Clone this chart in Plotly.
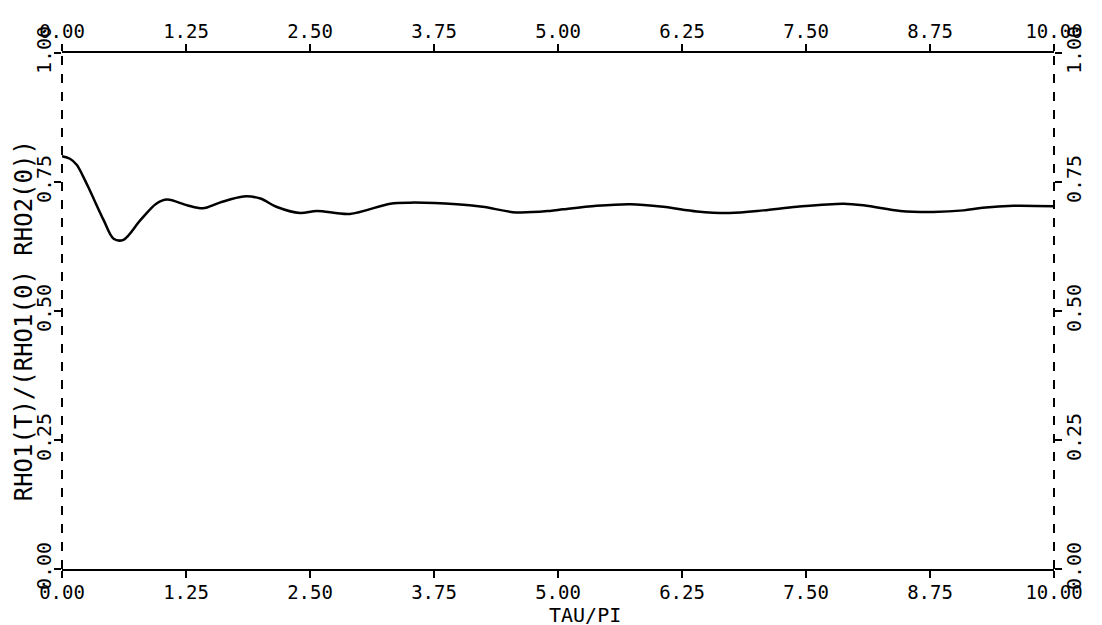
import plotly.graph_objects as go

# Data
tau = [0.0, 0.08, 0.15, 0.21, 0.28, 0.42, 0.52, 0.62, 0.79, 0.95, 1.06, 1.26, 1.42, 1.59, 1.83,
       2.0, 2.16, 2.40, 2.57, 2.90, 3.31, 3.51, 3.98, 4.24, 4.58, 4.92, 5.05, 5.39, 5.73,
       6.06, 6.40, 6.73, 7.07, 7.41, 7.88, 8.11, 8.45, 8.78, 9.09, 9.28, 9.59, 10.0]
rho = [0.800, 0.795, 0.783, 0.762, 0.734, 0.676, 0.640, 0.638, 0.676, 0.708, 0.716, 0.705,
       0.699, 0.710, 0.722, 0.718, 0.702, 0.690, 0.694, 0.688, 0.708, 0.710, 0.707, 0.702,
       0.691, 0.694, 0.697, 0.704, 0.707, 0.702, 0.693, 0.690, 0.695, 0.702, 0.708, 0.704,
       0.694, 0.692, 0.695, 0.700, 0.704, 0.703]

x_ticks = [0.0, 1.25, 2.5, 3.75, 5.0, 6.25, 7.5, 8.75, 10.0]
x_ticktext = ["0.00", "1.25", "2.50", "3.75", "5.00", "6.25", "7.50", "8.75", "10.00"]
y_ticks = [0.0, 0.25, 0.5, 0.75, 1.0]
y_ticktext = ["0.00", "0.25", "0.50", "0.75", "1.00"]

x_title = "TAU/PI"
y_title = "RHO1(T)/(RHO1(0) RHO2(0))"

FONT = "DejaVu Sans Mono"

fig = go.Figure()
fig.add_trace(go.Scatter(x=tau, y=rho, mode="lines",
                         line=dict(color="black", width=2.5, shape="spline", smoothing=0.9),
                         showlegend=False, hoverinfo="skip"))
# invisible trace to anchor the mirrored (top/right) axes
fig.add_trace(go.Scatter(x=[x_ticks[0], x_ticks[-1]], y=[y_ticks[0], y_ticks[-1]],
                         xaxis="x2", yaxis="y2", mode="markers",
                         marker=dict(opacity=0), showlegend=False, hoverinfo="skip"))

common_x = dict(range=[0, 10], tickvals=x_ticks, ticktext=x_ticktext, ticks="outside",
                ticklen=7, tickwidth=2, tickcolor="black", showgrid=False, zeroline=False,
                showline=True, linecolor="black", linewidth=2, ticklabelstandoff=-2,
                tickfont=dict(family=FONT, size=19, color="black"))
common_y = dict(range=[0, 1], tickvals=y_ticks, ticktext=y_ticktext, ticks="outside",
                ticklen=7, tickwidth=2, tickcolor="black", showgrid=False, zeroline=False,
                showline=False, tickangle=-90, ticklabelstandoff=-5,
                tickfont=dict(family=FONT, size=20, color="black"))

fig.update_layout(
    width=1102, height=625,
    margin=dict(l=54, r=56, t=40, b=64),
    paper_bgcolor="white", plot_bgcolor="white",
    xaxis=dict(**common_x, side="bottom"),
    xaxis2=dict(**common_x, side="top", overlaying="x", matches="x"),
    yaxis=dict(**common_y, side="left"),
    yaxis2=dict(**common_y, side="right", overlaying="y", matches="y"),
    shapes=[
        dict(type="line", xref="x domain", yref="y domain", x0=0, x1=0, y0=0, y1=1,
             line=dict(color="black", width=2, dash="dash")),
        dict(type="line", xref="x domain", yref="y domain", x0=1, x1=1, y0=0, y1=1,
             line=dict(color="black", width=2, dash="dash")),
    ],
    annotations=[
        dict(text=y_title, xref="paper", yref="paper", x=0, y=0.48, xanchor="center",
             yanchor="middle", xshift=-38, textangle=-90, showarrow=False,
             font=dict(family=FONT, size=24, color="black")),
        dict(text=x_title, xref="paper", yref="paper", x=0.527, y=0, xanchor="center",
             yanchor="top", yshift=-32, showarrow=False,
             font=dict(family=FONT, size=20, color="black")),
    ],
)

fig.write_html("out.html")
